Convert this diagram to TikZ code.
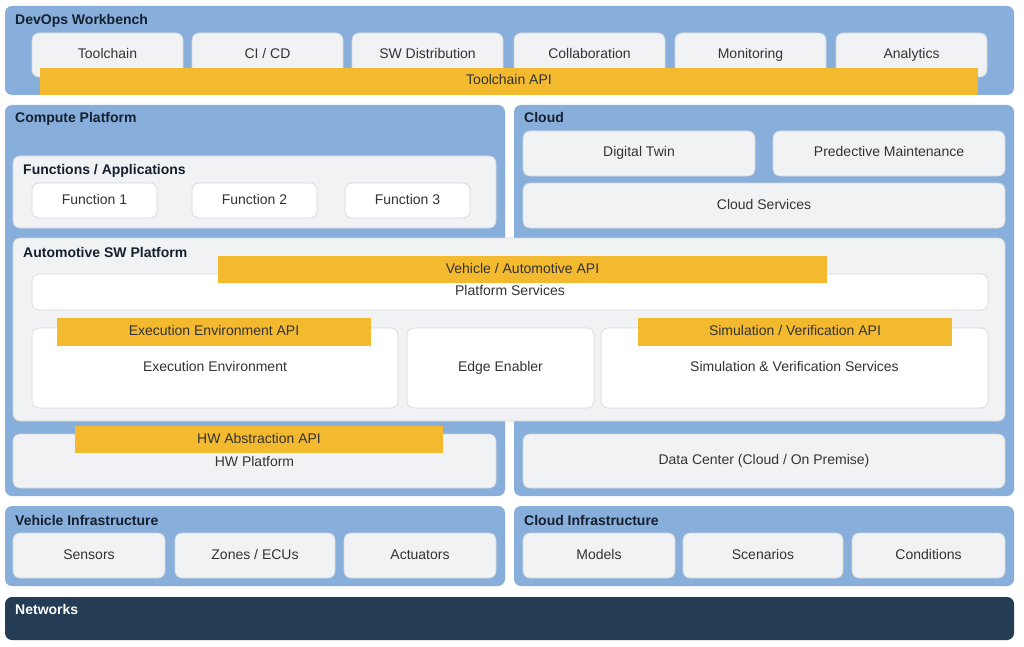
\documentclass[tikz,border=0pt]{standalone}
\usepackage{fontspec}
\setmainfont{Liberation Sans}
\definecolor{layerblue}{HTML}{88AEDB}
\definecolor{paneltint}{HTML}{F1F2F4}
\definecolor{panelrim}{HTML}{D3D6DA}
\definecolor{apiyellow}{HTML}{F3BA30}
\definecolor{bodytext}{HTML}{333333}
\definecolor{headtext}{HTML}{15202E}
\definecolor{netnavy}{HTML}{243D55}
\begin{document}
\begin{tikzpicture}[x=1pt,y=-1pt,font=\fontsize{14}{16}\selectfont,
        box/.style={anchor=north west,inner sep=0pt,outer sep=0pt,rounded corners=7pt,text=bodytext,text height=10pt,text depth=3pt},
        layer/.style={box,fill=layerblue},
        panel/.style={box,fill=paneltint,draw=panelrim,line width=0.6pt},
        plain/.style={box,fill=white,draw=panelrim,line width=0.6pt},
        api/.style={box,rounded corners=0pt,fill=apiyellow},
        head/.style={anchor=base west,inner sep=0pt,font=\fontsize{14}{16}\selectfont\bfseries,text=headtext}]
    \useasboundingbox[fill=white] (0,0) rectangle (1024,647);
    % layers
    \node[layer,minimum width=1009,minimum height=89] (devops) at (5,6) {};
    \node[layer,minimum width=500,minimum height=391] (compute) at (5,105) {};
    \node[layer,minimum width=500,minimum height=391] (cloud) at (514,105) {};
    \node[layer,minimum width=500,minimum height=80] (vinfra) at (5,506) {};
    \node[layer,minimum width=500,minimum height=80] (cinfra) at (514,506) {};
    \node[layer,fill=netnavy,minimum width=1009,minimum height=43] (net) at (5,597) {};
    % devops workbench
    \foreach \x/\t [count=\i] in {32/Toolchain,192/{CI / CD},352/{SW Distribution},514/Collaboration,675/Monitoring,836/Analytics}{%
        \node[panel,minimum width=151,minimum height=44] (dev-\i) at (\x,33) {\t};
    }
    \node[api,minimum width=938,minimum height=27] (tc-api) at (40,68) {Toolchain API};
    % compute platform
    \node[panel,minimum width=483,minimum height=72] (apps) at (13,156) {};
    \foreach \x [count=\i] in {32,192,345}{%
        \node[plain,minimum width=125,minimum height=35] (fn-\i) at (\x,183) {Function \i};
    }
    % cloud
    \node[panel,minimum width=232,minimum height=45] (twin) at (523,131) {Digital Twin};
    \node[panel,minimum width=232,minimum height=45] (maint) at (773,131) {Predective Maintenance};
    \node[panel,minimum width=482,minimum height=45] (csvc) at (523,183) {Cloud Services};
    % automotive sw platform
    \node[panel,minimum width=992,minimum height=183] (aswp) at (13,238) {};
    \node[plain,minimum width=956,minimum height=36] (psvc) at (32,274) {Platform Services};
    \node[plain,minimum width=366,minimum height=80] (exec) at (32,328) {Execution Environment};
    \node[plain,minimum width=187,minimum height=80] (edge) at (407,328) {Edge Enabler};
    \node[plain,minimum width=387,minimum height=80] (simv) at (601,328) {Simulation \& Verification Services};
    \node[api,minimum width=609,minimum height=27] (veh-api) at (218,256) {Vehicle / Automotive API};
    \node[api,minimum width=314,minimum height=28] (exec-api) at (57,318) {Execution Environment API};
    \node[api,minimum width=314,minimum height=28] (sim-api) at (638,318) {Simulation / Verification API};
    % hardware / data center
    \node[panel,minimum width=483,minimum height=54,text depth=-2pt] (hw) at (13,434) {HW Platform};
    \node[panel,minimum width=482,minimum height=54] (dc) at (523,434) {Data Center (Cloud / On Premise)};
    \node[api,minimum width=368,minimum height=27] (hw-api) at (75,426) {HW Abstraction API};
    % infrastructure
    \foreach \x/\w/\t [count=\i] in {13/152/Sensors,175/160/{Zones / ECUs},344/152/Actuators}{%
        \node[panel,minimum width=\w,minimum height=45] (vi-\i) at (\x,533) {\t};
    }
    \foreach \x/\w/\t [count=\i] in {523/152/Models,683/160/Scenarios,852/153/Conditions}{%
        \node[panel,minimum width=\w,minimum height=45] (ci-\i) at (\x,533) {\t};
    }
    % headings
    \node[head] (devops-h) at (15,25) {DevOps Workbench};
    \node[head] (compute-h) at (15,123) {Compute Platform};
    \node[head] (cloud-h) at (524,123) {Cloud};
    \node[head] (apps-h) at (23,175) {Functions / Applications};
    \node[head] (aswp-h) at (23,257) {Automotive SW Platform};
    \node[head] (vinfra-h) at (15,525) {Vehicle Infrastructure};
    \node[head] (cinfra-h) at (524,525) {Cloud Infrastructure};
    \node[head,text=white] (net-h) at (15,614) {Networks};
\end{tikzpicture}
\end{document}
